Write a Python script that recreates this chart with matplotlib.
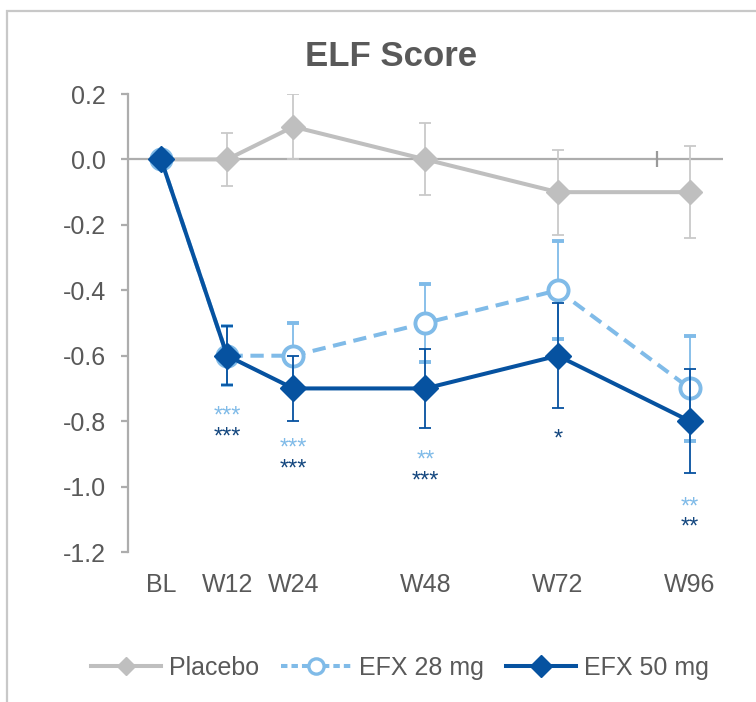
import matplotlib
matplotlib.use("Agg")
import matplotlib.pyplot as plt
from matplotlib.lines import Line2D
from matplotlib.patches import Rectangle

plt.rcParams["font.family"] = ["Liberation Sans", "DejaVu Sans"]
plt.rcParams["axes.unicode_minus"] = False

# ---- data -------------------------------------------------------------
weeks = [0, 12, 24, 48, 72, 96]
week_labels = ["BL", "W12", "W24", "W48", "W72", "W96"]

placebo = [0.0, 0.0, 0.1, 0.0, -0.1, -0.1]
placebo_err = [0.0, 0.08, 0.10, 0.11, 0.13, 0.14]

efx28 = [0.0, -0.6, -0.6, -0.5, -0.4, -0.7]
efx28_err = [0.0, 0.09, 0.10, 0.12, 0.15, 0.16]

efx50 = [0.0, -0.6, -0.7, -0.7, -0.6, -0.8]
efx50_err = [0.0, 0.09, 0.10, 0.12, 0.16, 0.16]

# significance vs placebo (W12..W96), baseline height of each label
sig_weeks = [12, 24, 48, 72, 96]
sig28 = ["***", "***", "**", "", "**"]
sig28_y = [-0.804, -0.903, -0.940, -0.874, -1.082]
sig50 = ["***", "***", "***", "*", "**"]
sig50_y = [-0.868, -0.967, -1.004, -0.874, -1.144]

yticks = [0.2, 0.0, -0.2, -0.4, -0.6, -0.8, -1.0, -1.2]

# ---- style -------------------------------------------------------------
GREY = "#BFBFBF"
GREY_ERR = "#C9C9C9"
AXIS = "#ADADAD"
LIGHT = "#80BBE8"
DARK = "#0652A0"
DARK_TXT = "#14477F"
TEXT = "#595959"

fig = plt.figure(figsize=(7.56, 7.02), dpi=100)
ax = fig.add_axes([128 / 756, 1 - 552 / 702, (723 - 128) / 756, (552 - 94) / 702])

# outer chart frame
fig.patches.append(Rectangle((7 / 756, -0.2), 1.5, 1.2 - 11 / 702, fill=False,
                             edgecolor="#C8C8C8", lw=1.6,
                             transform=fig.transFigure, zorder=0))

ax.set_xlim(-6, 102)
ax.set_ylim(-1.2, 0.2)

# zero line (category axis) with its single tick mark
ax.axhline(0, color=AXIS, lw=1.6, zorder=1)
ax.plot([90], [0], marker="|", ms=12, mew=1.6, color="#9A9A9A", zorder=1)

err_kw = dict(capsize=4, elinewidth=1.3, capthick=1.3)

ax.errorbar(weeks, placebo, yerr=placebo_err, color=GREY, ecolor=GREY_ERR,
            lw=2.9, marker="D", ms=12.5, mec=GREY, zorder=2, **err_kw)

ax.errorbar(weeks, efx28, yerr=efx28_err, color=LIGHT, ecolor=LIGHT,
            lw=2.9, ls=(0, (3.3, 1.9)), marker="o", ms=14.5, mfc="white",
            mec=LIGHT, mew=2.8, zorder=3, **err_kw)

ax.errorbar(weeks, efx50, yerr=efx50_err, color=DARK, ecolor=DARK,
            lw=2.9, marker="D", ms=13.5, mec=DARK, zorder=4, **err_kw)

for wk, s, y in zip(sig_weeks, sig28, sig28_y):
    if s:
        ax.text(wk, y, s, color=LIGHT, fontsize=17, ha="center", va="baseline")
for wk, s, y in zip(sig_weeks, sig50, sig50_y):
    if s:
        ax.text(wk, y, s, color=DARK_TXT, fontsize=17, ha="center", va="baseline")

# axes styling
for side in ("top", "right", "bottom"):
    ax.spines[side].set_visible(False)
ax.spines["left"].set_color(AXIS)
ax.spines["left"].set_linewidth(1.6)

ax.set_yticks(yticks)
ax.set_yticklabels([f"{v:.1f}" for v in yticks])
ax.tick_params(axis="y", direction="out", length=5, width=1.6, color=AXIS,
               pad=11, labelsize=18, labelcolor=TEXT)

ax.set_xticks(weeks)
ax.set_xticklabels(week_labels)
ax.tick_params(axis="x", length=0, pad=15, labelsize=18, labelcolor=TEXT)

fig.text(391 / 756, 1 - 56 / 702, "ELF Score", ha="center", va="center",
         fontsize=25, fontweight="bold", color=TEXT)

handles = [
    Line2D([], [], color=GREY, lw=2.9, marker="D", ms=9.5, mec=GREY),
    Line2D([], [], color=LIGHT, lw=2.9, ls=(0, (1.6, 1.0)), marker="o", ms=11,
           mfc="white", mec=LIGHT, mew=2.4),
    Line2D([], [], color=DARK, lw=2.9, marker="D", ms=11, mec=DARK),
]
fig.legend(handles, ["Placebo", "EFX 28 mg", "EFX 50 mg"], loc="center",
           bbox_to_anchor=(400 / 756, 1 - 668 / 702), ncol=3, frameon=False,
           handlelength=2.8, handletextpad=0.3, columnspacing=0.9,
           fontsize=18, labelcolor=TEXT)

fig.savefig("out.png", dpi=100)
